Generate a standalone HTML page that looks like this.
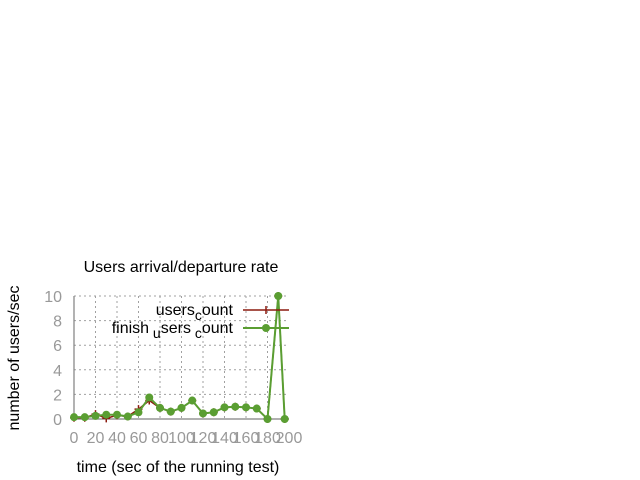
<!DOCTYPE html>
<html><head><meta charset="utf-8"><style>
html,body{margin:0;padding:0;background:#fff;width:640px;height:480px;overflow:hidden}
svg text{font-family:"Liberation Sans",sans-serif}
</style></head><body>
<svg id="chart" width="640" height="480" xmlns="http://www.w3.org/2000/svg">
<text x="181" y="272" font-size="16" text-anchor="middle" fill="#000">Users arrival/departure rate</text>
<text x="0" y="0" font-size="16" text-anchor="middle" fill="#000" transform="translate(19,358) rotate(-90)">number of users/sec</text>
<text x="178" y="472" font-size="16" text-anchor="middle" fill="#000">time (sec of the running test)</text>
<g id="grid"></g><g id="axes"></g><g id="series"></g><g id="legend"></g>
</svg>
<script>
const xs = [0,10,20,30,40,50,60,70,80,90,100,110,120,130,140,150,160,170,180,190,196];
const usersCount = [0.1,0.1,0.4,0.05,0.3,0.2,0.8,1.5,0.9,0.6,0.9,1.5,0.45,0.55,0.95,1.0,0.95,0.85,0,10,0];
const finishUsersCount = [0.15,0.15,0.25,0.35,0.35,0.2,0.55,1.75,0.9,0.6,0.9,1.5,0.45,0.55,0.95,1.0,0.95,0.85,0,10,0];
const xTicks = [0,20,40,60,80,100,120,140,160,180,200];
const yTicks = [0,2,4,6,8,10];
const NS="http://www.w3.org/2000/svg";
const L=74,R=289,T=296,B=419;
const sx=v=>L+(v/200)*(R-L), sy=v=>B-(v/10)*(B-T);
function mk(tag,attrs,parent){const e=document.createElementNS(NS,tag);for(const k in attrs)e.setAttribute(k,attrs[k]);parent.appendChild(e);return e;}
const grid=document.getElementById('grid'),axes=document.getElementById('axes'),series=document.getElementById('series'),legend=document.getElementById('legend');
yTicks.forEach(v=>{
  if(v>0){const g=mk('line',{x1:L,x2:R,y1:sy(v),y2:sy(v),stroke:'#a0a0a0','stroke-dasharray':'2,3'},grid);
  
  }
  const t=mk('text',{x:62,y:sy(v)+6,'font-size':16,'text-anchor':'end',fill:'#999'},axes);t.textContent=v;
  
  
});
xTicks.forEach(v=>{
  if(v>0&&v<200){const g=mk('line',{x1:sx(v),x2:sx(v),y1:T,y2:B,stroke:'#a0a0a0','stroke-dasharray':'2,3'},grid);
  
  }
  const t=mk('text',{x:sx(v),y:443,'font-size':16,'text-anchor':'middle',fill:'#999'},axes);t.textContent=v;
  
  
});
const topBorder=mk('line',{x1:L,x2:R,y1:T,y2:T,stroke:'#a0a0a0','stroke-dasharray':'2,3'},grid);


const axFrame=mk('path',{d:`M${L},${T}V${B}H${R}`,fill:'none',stroke:'#808080','stroke-width':1.2},axes);


function pts(vals){return xs.map((x,i)=>sx(x)+','+sy(vals[i])).join(' ');}
const l1=mk('polyline',{points:pts(usersCount),fill:'none',stroke:'#8b1a0e','stroke-width':1.5},series);


usersCount.forEach((v,i)=>{const p=mk('path',{d:`M${sx(xs[i])-4},${sy(v)}h8M${sx(xs[i])},${sy(v)-4}v8`,stroke:'#8b1a0e','stroke-width':1.5},series);
  
  });
const l2=mk('polyline',{points:pts(finishUsersCount),fill:'none',stroke:'#5a9e32','stroke-width':2},series);


finishUsersCount.forEach((v,i)=>{const c=mk('circle',{cx:sx(xs[i]),cy:sy(v),r:4,fill:'#5a9e32'},series);
  
  });
const lg1=mk('text',{x:233,y:315,'font-size':16,'text-anchor':'end',fill:'#000'},legend);
lg1.innerHTML='users<tspan dy="5" font-size="14">c</tspan><tspan dy="-5">ount</tspan>';


const lm1=mk('path',{d:'M243,310H289M266,306v8',stroke:'#8b1a0e','stroke-width':1.5},legend);


const lg2=mk('text',{x:233,y:333,'font-size':16,'text-anchor':'end',fill:'#000'},legend);
lg2.innerHTML='finish<tspan dy="5" font-size="14"> u</tspan><tspan dy="-5">sers</tspan><tspan dy="5" font-size="14"> c</tspan><tspan dy="-5">ount</tspan>';


const lm2=mk('path',{d:'M243,328H289',stroke:'#5a9e32','stroke-width':2},legend);


const lc2=mk('circle',{cx:266,cy:328,r:4,fill:'#5a9e32'},legend);


</script>
</body></html>
